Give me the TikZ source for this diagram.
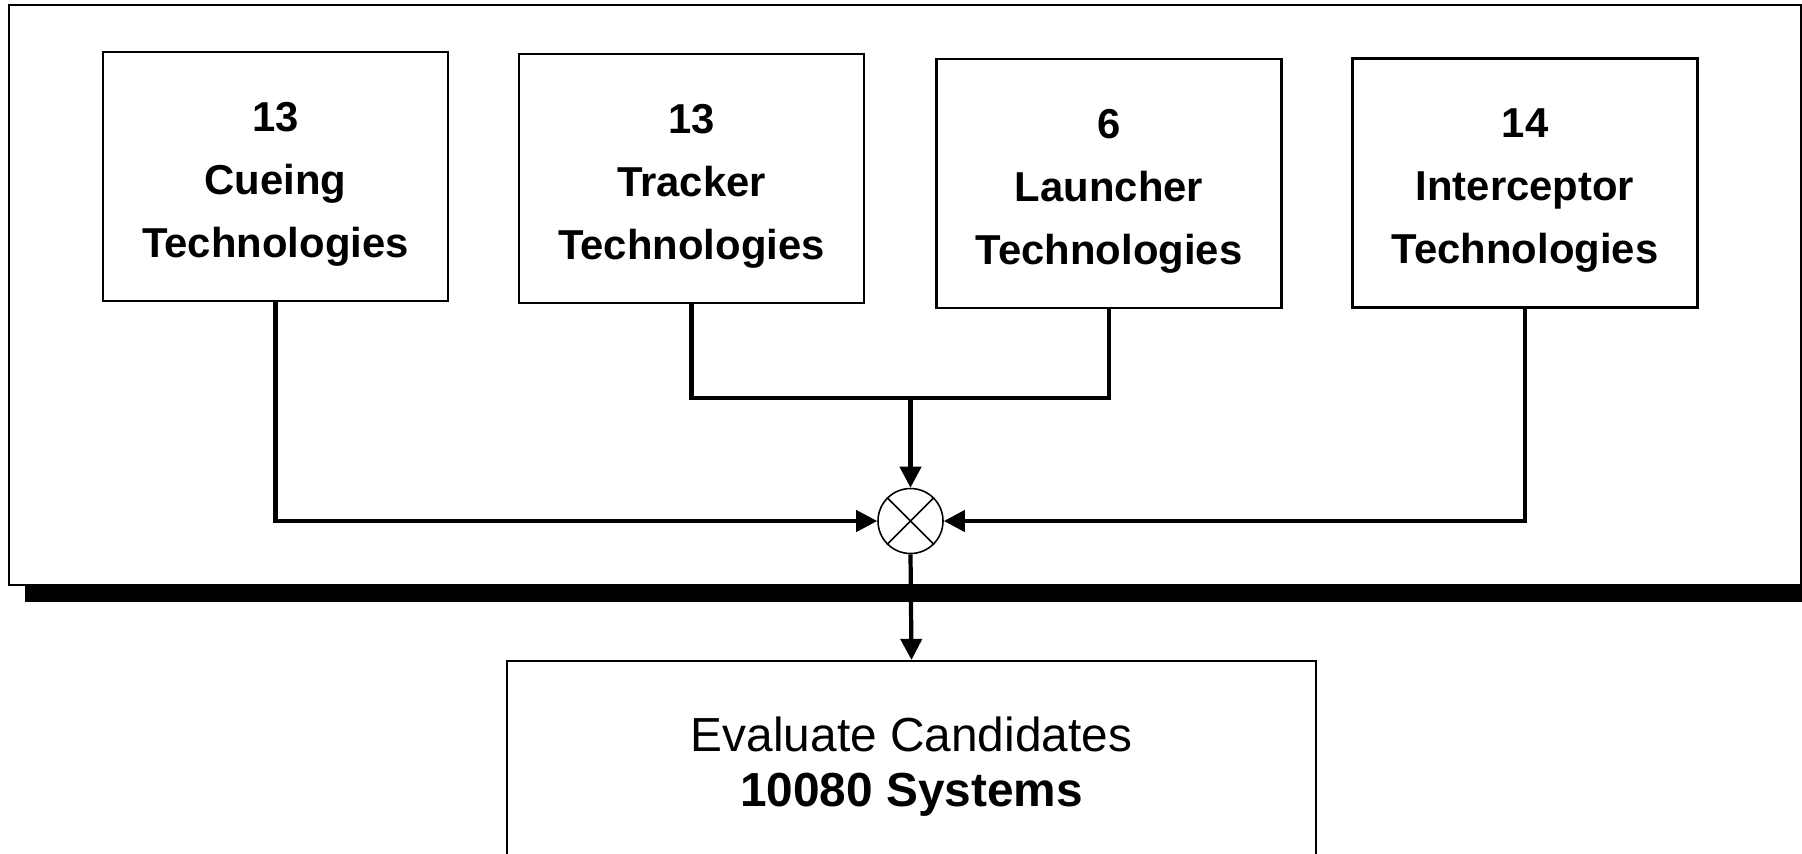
\documentclass[tikz,border=0pt]{standalone}
\usepackage{fontspec}
\setmainfont{Liberation Sans}
\usetikzlibrary{arrows.meta}
\newcommand{\techlines}[1]{\raisebox{-0.05cm}[\height][\depth]{\begin{tabular}{@{}c@{}}#1\end{tabular}}}
\begin{document}
\begin{tikzpicture}[
    techbox/.style={draw, line width=0.6pt, fill=white, minimum width=3.45cm,
        minimum height=2.49cm, inner sep=0pt, align=center,
        font=\fontsize{11.9}{17.9}\selectfont\bfseries},
    link/.style={line width=1.2pt},
    arr/.style={link, -{Triangle[length=6pt, width=6pt]}}
]
    \useasboundingbox (0,0) rectangle (18.02,-8.53);

    % Panel and its shadow
    \fill[black] (0.25,-0.22) rectangle (18.3,-6.02);
    \draw[fill=white, line width=0.5pt] (0.09,-0.05) rectangle (18.01,-5.85);

    % Technology boxes
    \node[techbox] (cue) at (2.755,-1.765) {\techlines{13\\Cueing\\Technologies}};
    \node[techbox] (trk) at (6.915,-1.785) {\techlines{13\\Tracker\\Technologies}};
    \node[techbox] (lch) at (11.09,-1.835) {\techlines{6\\Launcher\\Technologies}};
    \node[techbox] (int) at (15.25,-1.83) {\techlines{14\\Interceptor\\Technologies}};

    % Combination point
    \node[draw, circle, minimum size=0.65cm, inner sep=0pt, line width=0.45pt, fill=white] (mix) at (9.105,-5.21) {};
    \draw[line width=0.45pt] (mix.45) -- (mix.225) (mix.135) -- (mix.315);

    % Candidate evaluation
    \node[draw, line width=0.6pt, fill=white, minimum width=8.09cm, minimum height=2.02cm,
        align=center, font=\fontsize{13.6}{15.6}\selectfont] (eval) at (9.115,-7.62)
        {\raisebox{-0.06cm}[\height][\depth]{\begin{tabular}{@{}c@{}}Evaluate Candidates\\\textbf{10080 Systems}\end{tabular}}};

    % Connectors
    \coordinate (merge) at (9.105,-3.98);
    \draw[link] (trk.south) |- (merge) -| (lch.south);
    \draw[arr] (merge) -- (mix.north);
    \draw[arr] (cue.south) |- (mix.west);
    \draw[arr] (int.south) |- (mix.east);
    \draw[arr] (mix.south) -- (eval.north);
\end{tikzpicture}
\end{document}
